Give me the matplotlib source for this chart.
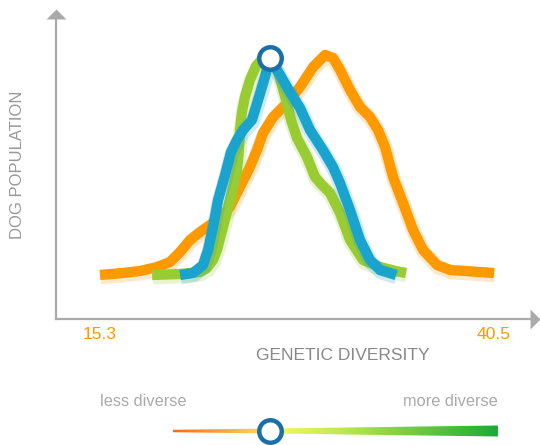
import numpy as np
import matplotlib
matplotlib.use("Agg")
import matplotlib.pyplot as plt
import matplotlib.patheffects as pe
from matplotlib.colors import LinearSegmentedColormap
from matplotlib.patches import Polygon
from matplotlib.path import Path

plt.rcParams['font.family'] = ['Liberation Sans', 'DejaVu Sans']

# ---------------- data ----------------
orange_x = [15.30, 16.77, 17.86, 18.95, 19.78, 20.42, 21.06, 21.70, 22.34, 22.98,
            23.61, 24.25, 24.89, 25.34, 25.73, 26.37, 27.26, 28.09, 28.93, 29.69,
            30.20, 30.65, 31.29, 31.93, 32.57, 33.08, 33.53, 34.04, 34.68, 35.32,
            35.96, 36.86, 37.69, 40.50]
orange_y = [0, 2, 4, 8, 13, 23, 35, 43, 50, 57, 68, 88, 108, 125, 142, 158, 172,
            188, 208, 220, 217, 205, 185, 168, 158, 145, 128, 98, 72, 45, 25, 10, 5, 2]

green_x = [18.63, 20.42, 21.70, 22.14, 22.53, 22.78, 23.17, 23.61, 24.06, 24.19,
           24.25, 24.38, 24.57, 24.89, 25.28, 25.73, 26.05, 26.37, 26.75, 27.20,
           27.52, 27.90, 28.54, 29.05, 29.50, 30.01, 30.65, 31.29, 32.12, 33.21,
           34.17, 34.87]
green_y = [0, 1, 3, 7, 15, 25, 48, 75, 105, 125, 145, 163, 178, 195, 209, 217, 219,
           213, 200, 175, 155, 137, 118, 98, 90, 82, 62, 35, 15, 8, 4, 2]

blue_x = [20.42, 21.25, 21.89, 22.21, 22.53, 22.85, 23.30, 23.68, 24.06, 24.45,
          25.02, 25.41, 25.85, 26.17, 26.81, 27.45, 28.09, 28.73, 29.56, 30.20,
          30.65, 31.29, 31.93, 32.57, 33.21, 34.23]
blue_y = [0, 2, 10, 25, 48, 75, 100, 123, 135, 145, 155, 175, 198, 217, 200, 183,
          167, 145, 125, 108, 92, 65, 35, 15, 5, 0]

x_ticks = [15.3, 40.5]
x_tick_labels = ["15.3", "40.5"]
slider_range = [19.97, 40.75]
slider_value = blue_x[int(np.argmax(blue_y))]

ORANGE = "#ff9900"
GREEN = "#99cc33"
BLUE = "#1aa3cc"
MARK = "#1a6fa8"
AXIS = "#aaaaaa"

W, H = 540, 445
fig = plt.figure(figsize=(W / 100, H / 100), dpi=100)

# main axes: left 56px, right 530px, bottom 319px, top 19px
ax = fig.add_axes([56 / W, (H - 319) / H, 474 / W, 300 / H])
ax.set_xlim(12.486, 42.80)
ax.set_ylim(-44, 256)
for s in ["top", "right"]:
    ax.spines[s].set_visible(False)
for s in ["left", "bottom"]:
    ax.spines[s].set_color(AXIS)
    ax.spines[s].set_linewidth(1.6)
ax.set_yticks([])
ax.set_xticks(x_ticks)
ax.set_xticklabels(x_tick_labels, color=ORANGE, fontsize=12.6)
ax.tick_params(axis="x", length=0, pad=6)
ax.set_facecolor("none")

# arrow heads
tri_up = Path([(-1, 0), (1, 0), (0, 1), (-1, 0)])
tri_right = Path([(0, -1), (0, 1), (1, 0), (0, -1)])
ax.plot([0], [1], marker=tri_up, markersize=14.4, color=AXIS, transform=ax.transAxes,
        clip_on=False, markeredgewidth=0)
ax.plot([1], [0], marker=tri_right, markersize=14.4, color=AXIS, transform=ax.transAxes,
        clip_on=False, markeredgewidth=0)

lw = 7.4
for xs, ys, c in [(orange_x, orange_y, ORANGE), (green_x, green_y, GREEN), (blue_x, blue_y, BLUE)]:
    ax.plot(xs, ys, color=c, lw=lw, solid_capstyle="butt", solid_joinstyle="round",
            path_effects=[pe.SimpleLineShadow(offset=(0.5, -1.5), shadow_color=c, alpha=0.22,
                                              linewidth=lw + 3),
                          pe.Normal()])

# peak marker
pk = int(np.argmax(blue_y))
ax.plot([blue_x[pk]], [blue_y[pk]], "o", ms=16.2, mfc="white", mec=MARK, mew=3.2,
        zorder=10, clip_on=False)

# texts
fig.text(18 / W, 1 - 165 / H, "DOG POPULATION", rotation=90, ha="center", va="center",
         fontsize=12, color="#999999")
fig.text(343 / W, 1 - 356 / H, "GENETIC DIVERSITY", ha="center", va="center",
         fontsize=12.5, color="#888888")
fig.text(143 / W, 1 - 402 / H, "less diverse", ha="center", va="center",
         fontsize=11.8, color="#aaaaaa")
fig.text(450 / W, 1 - 402 / H, "more diverse", ha="center", va="center",
         fontsize=11.8, color="#aaaaaa")

# slider axes (same x scale), center line at 431px
sax = fig.add_axes([56 / W, (H - 444) / H, 474 / W, 26 / H])
sax.set_xlim(ax.get_xlim())
sax.set_ylim(-13, 13)
sax.axis("off")
cmap = LinearSegmentedColormap.from_list("div", [
    (0.0, "#f26a25"), (0.12, "#f59a35"), (0.23, "#f8c850"), (0.34, "#eef755"),
    (0.5, "#c5ea55"), (0.7, "#80d040"), (1.0, "#1eaa38")])
grad = np.linspace(0, 1, 256).reshape(1, -1)
im = sax.imshow(grad, cmap=cmap, aspect="auto",
                extent=[slider_range[0], slider_range[1], -6, 6], interpolation="bilinear")
wedge = Polygon([(slider_range[0], -1.2), (slider_range[1], -5.5),
                 (slider_range[1], 5.5), (slider_range[0], 1.2)], closed=True,
                transform=sax.transData, facecolor="none", edgecolor="none")
sax.add_patch(wedge)
im.set_clip_path(wedge)
sax.plot([slider_value], [0], "o", ms=16.2, mfc="white", mec=MARK, mew=3.2,
         zorder=10, clip_on=False)

fig.savefig("out.png", dpi=100)
